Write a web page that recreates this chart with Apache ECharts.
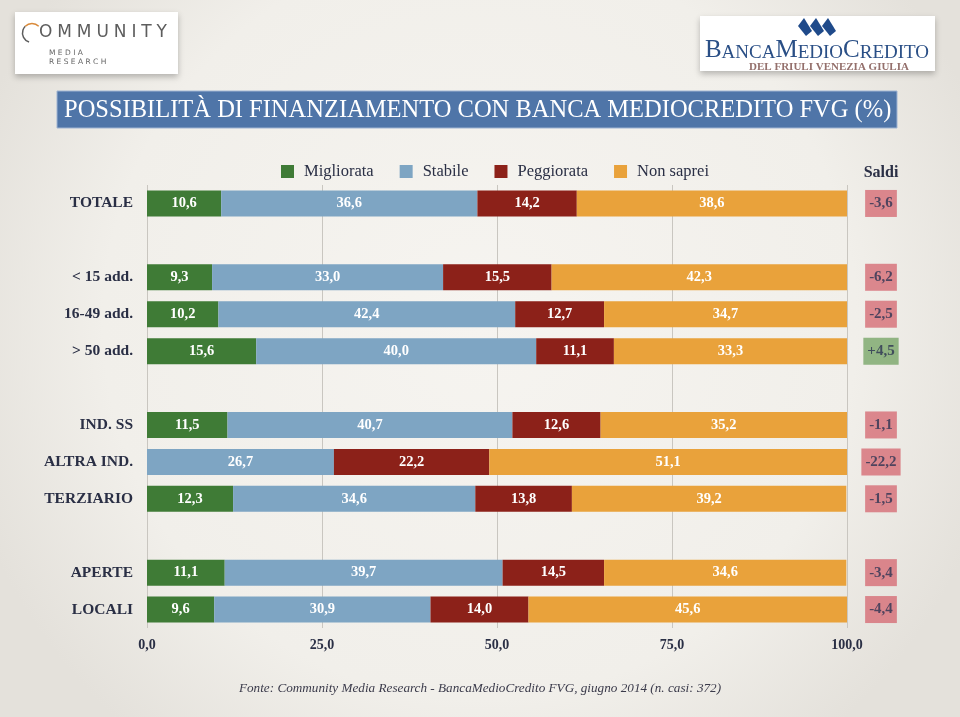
<!DOCTYPE html>
<html><head><meta charset="utf-8">
<script src="https://cdn.jsdelivr.net/npm/echarts@6/dist/echarts.min.js"></script>
<style>html,body{margin:0;padding:0;background:#f2f0eb;}#c{width:960px;height:717px;}</style>
</head><body><div id="c"></div>
<script>
const categories = ['TOTALE','', '< 15 add.','16-49 add.','> 50 add.','', 'IND. SS','ALTRA IND.','TERZIARIO','', 'APERTE','LOCALI'];
const migliorata = [10.6,null,9.3,10.2,15.6,null,11.5,0,12.3,null,11.1,9.6];
const stabile    = [36.6,null,33.0,42.4,40.0,null,40.7,26.7,34.6,null,39.7,30.9];
const peggiorata = [14.2,null,15.5,12.7,11.1,null,12.6,22.2,13.8,null,14.5,14.0];
const nonSaprei  = [38.6,null,42.3,34.7,33.3,null,35.2,51.1,39.2,null,34.6,45.6];
const saldi      = [-3.6,null,-6.2,-2.5,4.5,null,-1.1,-22.2,-1.5,null,-3.4,-4.4];
const seriesNames = ['Migliorata','Stabile','Peggiorata','Non saprei'];
const xTicks = [0,25,50,75,100];

const colors = ['#3f7b36','#7ea5c3','#8c2119','#e9a23b'];
const serif = '"Liberation Serif","DejaVu Serif",serif';
const dark = '#2a2f45';
const fmt = v => v.toFixed(1).replace('.',',');

const chart = echarts.init(document.getElementById('c'));
const values = [migliorata, stabile, peggiorata, nonSaprei];
const barSeries = seriesNames.map((n,i)=>({
  name:n, type:'bar', stack:'s', xAxisIndex:0, yAxisIndex:0,
  data: values[i], barWidth:26, itemStyle:{color:colors[i]},
  label:{show:true, position:'inside', color:'#fff', fontFamily:serif, fontSize:14.5, fontWeight:'bold',
    formatter:p=> (p.value==null||p.value===0)?'':fmt(p.value)}
}));

const saldiData = saldi.map((v,i)=> v==null ? null : {
  value:[0.5,i],
  label:{backgroundColor: v>0 ? '#79a669' : '#d66d76'}
});

// Community logo letters, tracked
const mctx = document.createElement('canvas').getContext('2d');
const logoFont = '17px "DejaVu Sans",sans-serif';
mctx.font = logoFont;
const commGraphics = [];
let lx = 39;
'OMMUNITY'.split('').forEach(ch=>{
  commGraphics.push({type:'text', x:lx, y:33, style:{text:ch, fill:'#5d5d5d', font:logoFont, textVerticalAlign:'middle'}});
  lx += mctx.measureText(ch).width + 4.9;
});

chart.setOption({
  backgroundColor:{type:'radial', x:0.5, y:0.45, r:0.75,
    colorStops:[{offset:0,color:'#f6f4f0'},{offset:0.7,color:'#f1efea'},{offset:1,color:'#e4e1db'}]},
  animation:false,
  legend:{
    data:seriesNames, left:276, top:158, itemWidth:13, itemHeight:13, itemGap:26,
    icon:'rect', textStyle:{fontFamily:serif, fontSize:16.5, color:dark, padding:[0,0,0,5]}
  },
  grid:[{left:147, right:113, top:185, bottom:89},
        {left:862, width:38, top:185, bottom:89}],
  xAxis:[{type:'value', gridIndex:0, min:0, max:100, interval:25,
      axisLine:{show:false}, axisTick:{show:false},
      splitLine:{show:true, lineStyle:{color:'#c9c6c0', width:1}},
      axisLabel:{formatter:v=>fmt(v), fontFamily:serif, fontSize:14, fontWeight:'bold', color:dark, margin:10}},
    {type:'value', gridIndex:1, min:0, max:1, show:false}],
  yAxis:[{type:'category', gridIndex:0, data:categories, inverse:true,
      axisLine:{show:false}, axisTick:{show:false},
      axisLabel:{fontFamily:serif, fontSize:15.5, fontWeight:'bold', color:dark, margin:14}},
    {type:'category', gridIndex:1, data:categories, inverse:true, show:false}],
  series:[...barSeries, {
    name:'Saldi', type:'scatter', xAxisIndex:1, yAxisIndex:1, symbolSize:0,
    data:saldiData, silent:true,
    label:{show:true, position:'inside', fontFamily:serif, fontSize:15, fontWeight:'bold', color:'#2c3352',
      padding:[6,4,6,4], formatter:p=>{const v=saldi[p.value[1]]; return (v>0?'+':'')+fmt(v);}}
  }],
  graphic:[
    // title bar
    {type:'rect', shape:{x:57,y:91,width:840,height:37}, style:{fill:'#4f75a8', stroke:'#9fb4d2', lineWidth:1}},
    {type:'text', x:64, y:111, style:{text:'POSSIBILITÀ DI FINANZIAMENTO CON BANCA MEDIOCREDITO FVG (%)', fill:'#fff', font:'24.5px '+serif, textVerticalAlign:'middle'}},
    {type:'text', x:881, y:173, style:{text:'Saldi', fill:dark, font:'bold 16px '+serif, textAlign:'center', textVerticalAlign:'middle'}},
    // footer
    {type:'text', x:480, y:689, style:{text:'Fonte: Community Media Research - BancaMedioCredito FVG, giugno 2014 (n. casi: 372)', fill:'#3b3b4b', font:'italic 13.2px '+serif, textAlign:'center', textVerticalAlign:'middle'}},
    // Community logo
    {type:'rect', shape:{x:15,y:12,width:163,height:62}, style:{fill:'#fff', shadowBlur:6, shadowColor:'rgba(0,0,0,0.25)', shadowOffsetY:3}},
    {type:'arc', shape:{cx:32,cy:33,r:9.5,startAngle:Math.PI*0.6,endAngle:Math.PI*1.25}, style:{stroke:'#5d5d5d', lineWidth:1.5, fill:null}},
    {type:'arc', shape:{cx:32,cy:33,r:9.5,startAngle:Math.PI*1.25,endAngle:Math.PI*1.75}, style:{stroke:'#d98a3a', lineWidth:1.5, fill:null}},
    ...commGraphics,
    {type:'text', x:49, y:53, style:{text:'M E D I A', fill:'#666', font:'7.5px "DejaVu Sans",sans-serif', textVerticalAlign:'middle'}},
    {type:'text', x:49, y:62, style:{text:'R E S E A R C H', fill:'#666', font:'7.5px "DejaVu Sans",sans-serif', textVerticalAlign:'middle'}},
    // Banca logo
    {type:'rect', shape:{x:700,y:16,width:235,height:55}, style:{fill:'#fff', shadowBlur:6, shadowColor:'rgba(0,0,0,0.25)', shadowOffsetY:3}},
    {type:'polygon', shape:{points:[[798,26],[804,18],[812,31],[806,36]]}, style:{fill:'#1f4a8a'}},
    {type:'polygon', shape:{points:[[810,26],[816,18],[824,31],[818,36]]}, style:{fill:'#1f4a8a'}},
    {type:'polygon', shape:{points:[[822,26],[828,18],[836,31],[830,36]]}, style:{fill:'#1f4a8a'}},
    {type:'text', x:817, y:50, style:{
      text:'{b|B}{s|ANCA}{b|M}{s|EDIO}{b|C}{s|REDITO}', textAlign:'center', textVerticalAlign:'middle',
      rich:{b:{fontFamily:serif, fontSize:25, fill:'#2a4f86', color:'#2a4f86', verticalAlign:'bottom', lineHeight:26},
            s:{fontFamily:serif, fontSize:19, fill:'#2a4f86', color:'#2a4f86', verticalAlign:'bottom', lineHeight:26}}}},
    {type:'text', x:829, y:67, style:{text:'DEL FRIULI VENEZIA GIULIA', fill:'#94706c', font:'bold 11px '+serif, textAlign:'center', textVerticalAlign:'middle'}}
  ]
});
</script></body></html>
